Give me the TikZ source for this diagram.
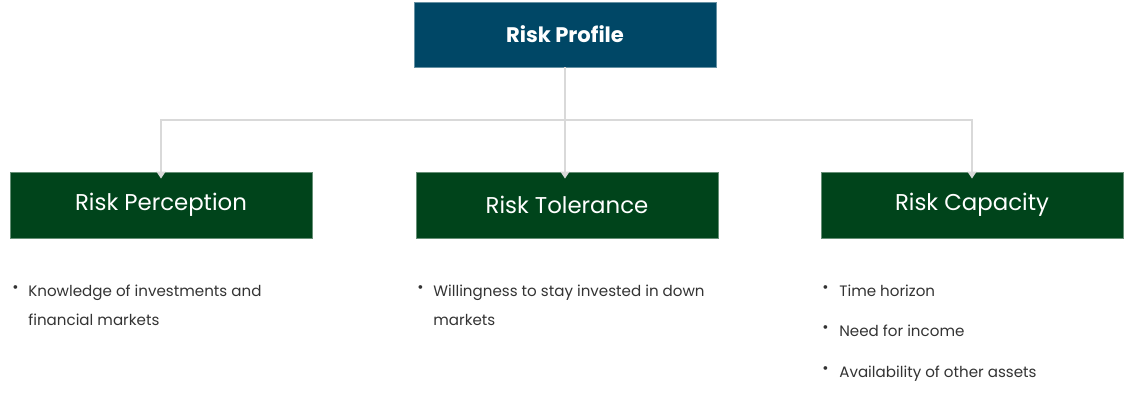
\documentclass[tikz,border=0pt]{standalone}
\usepackage{fontspec}
\setmainfont{Poppins}
\usetikzlibrary{arrows.meta}
\definecolor{topblue}{HTML}{004766}
\definecolor{boxgreen}{HTML}{00441B}
\definecolor{linegray}{HTML}{D9D9D9}
\definecolor{txt}{HTML}{333333}
\begin{document}
\begin{tikzpicture}[x=0.02cm,y=-0.02cm,
  topbox/.style={fill=topblue,draw=topblue!60,minimum width=302*0.02cm,minimum height=65*0.02cm,text=white,font=\fontsize{12}{14}\selectfont\bfseries},
  catbox/.style={fill=boxgreen,draw=boxgreen!60,minimum width=302*0.02cm,minimum height=66*0.02cm,text=white,font=\fontsize{13}{15}\selectfont\light},
  conn/.style={draw=linegray,line width=1.2pt,-{Triangle[width=5pt,length=4pt]}},
  btxt/.style={anchor=north west,text=txt,font=\fontsize{8.6}{16.3}\selectfont,align=left,inner sep=0pt}]
\providecommand\light{}
\useasboundingbox (0,0) rectangle (1125,414);
\node[topbox] (top) at (565,34.5) {Risk Profile};
\node[catbox] (a) at (161,205) {Risk Perception};
\node[catbox] (b) at (567,205) {Risk Tolerance};
\node[catbox] (c) at (972,205) {Risk Capacity};
\coordinate (j) at (565,120);
\draw[conn] (top.south) -- ([yshift=-7*0.02cm]b.north -| top.south);
\draw[conn] (j) -| ([yshift=-7*0.02cm]a.north);
\draw[conn] (j) -| ([yshift=-7*0.02cm]c.north);
\node[btxt] (a1) at (12,285) {•};
\node[btxt] (a2) at (28,285) {Knowledge of investments and\\financial markets};
\node[btxt] (b1) at (417,285) {•};
\node[btxt] (b2) at (433,285) {Willingness to stay invested in down\\markets};
\node[btxt] (c1) at (822,285) {•};
\node[btxt] (c2) at (839,285) {Time horizon};
\node[btxt] (c3) at (822,325) {•};
\node[btxt] (c4) at (839,325) {Need for income};
\node[btxt] (c5) at (822,366) {•};
\node[btxt] (c6) at (839,366) {Availability of other assets};
\end{tikzpicture}
\end{document}
